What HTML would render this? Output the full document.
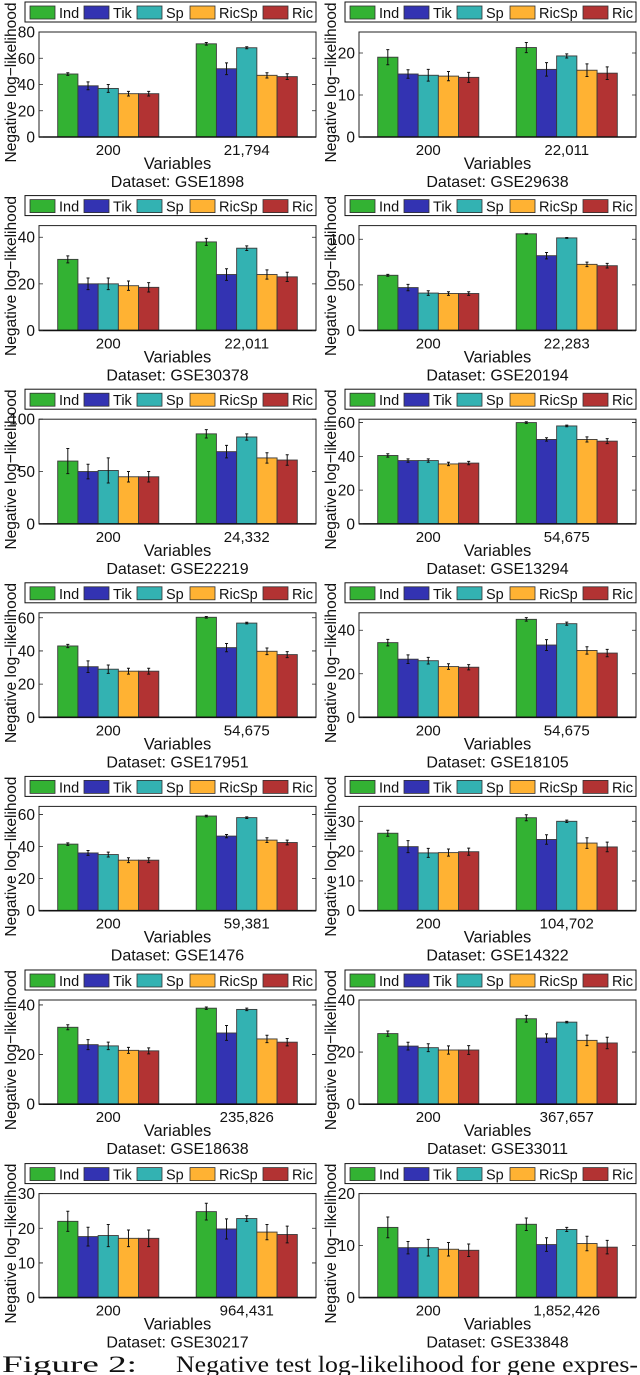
<!DOCTYPE html>
<html><head><meta charset="utf-8">
<style>
html,body{margin:0;padding:0;background:#fff;}
svg{display:block;}
text{font-family:"Liberation Sans",sans-serif;fill:#111;}
</style></head>
<body>
<svg id="fig" width="640" height="1375" viewBox="0 0 640 1375" xmlns="http://www.w3.org/2000/svg">
<g>
<text x="2" y="1372" style="font-family:'Liberation Serif',serif" font-size="23" textLength="135" lengthAdjust="spacingAndGlyphs">Figure 2:</text>
<text x="176" y="1372" style="font-family:'Liberation Serif',serif" font-size="23" textLength="462" lengthAdjust="spacingAndGlyphs">Negative test log-likelihood for gene expres-</text>
</g>
</svg>
<script>
const datasets = ["GSE1898","GSE29638","GSE30378","GSE20194","GSE22219","GSE13294","GSE17951","GSE18105","GSE1476","GSE14322","GSE18638","GSE33011","GSE30217","GSE33848"];
const varLabels = [["200","21,794"],["200","22,011"],["200","22,011"],["200","22,283"],["200","24,332"],["200","54,675"],["200","54,675"],["200","54,675"],["200","59,381"],["200","104,702"],["200","235,826"],["200","367,657"],["200","964,431"],["200","1,852,426"]];
const methods = ["Ind","Tik","Sp","RicSp","Ric"];
const yMax = [80,25,45,115,100,62,63,48,65,35,42,40,30,20];
const yTicks = [[0,20,40,60,80],[0,10,20],[0,20,40],[0,50,100],[0,50,100],[0,20,40,60],[0,20,40,60],[0,20,40],[0,20,40,60],[0,10,20,30],[0,20,40],[0,20,40],[0,10,20,30],[0,10,20]];
const values = [
 [[48,39,37,33,33],[71,52,68,47,46]],
 [[19,15,14.7,14.5,14.2],[21.3,16.1,19.3,15.9,15.2]],
 [[30.5,20,20,19.2,18.5],[38,24,35.3,24,23]],
 [[60.5,47,41,40.5,40.5],[106,82,101.5,72.5,71]],
 [[60,50,51,45,45],[86,69,83,63,61]],
 [[40.5,37.5,37.5,35.5,36],[60,50,58,50,49]],
 [[43,30.5,29,27.8,27.8],[60.3,42,56.8,39.8,37.8]],
 [[34.3,26.7,26,23.3,23],[45,33.2,43,30.7,29.5]],
 [[41.5,36,35,31.5,31.5],[59,46.5,58,44,42.5]],
 [[26,21.5,19.4,19.5,19.8],[31.2,23.9,30,22.7,21.4]],
 [[31,24,23.5,21.7,21.5],[38.7,28.7,38.2,26.3,25]],
 [[27.1,22.3,21.7,20.8,20.8],[32.8,25.4,31.5,24.5,23.5]],
 [[22,17.6,17.9,17.1,17.1],[24.8,19.8,22.8,18.9,18.2]],
 [[13.5,9.6,9.6,9.3,9.1],[14.1,10.2,13.1,10.4,9.7]]
];
const errors = [
 [[1,3,3,1.8,1.8],[1,4.5,0.8,2,2.2]],
 [[1.8,1,1.4,1.1,1.2],[1.2,1.6,0.5,1.5,1.5]],
 [[1.5,2.5,2.5,2,2],[1.5,2.5,1,2,2]],
 [[1,3.5,2.5,2,2],[0.5,3.5,0.5,2.5,2.5]],
 [[12,7,12,5,5],[4,6,3,5,5]],
 [[1,1,1,1,1],[0.5,1,0.5,1.5,1.5]],
 [[1,3.5,2.5,1.8,1.8],[0.5,2.5,0.5,2,1.8]],
 [[1.5,2,1.5,1.3,1.2],[0.8,2.5,0.7,1.7,1.7]],
 [[0.8,1.5,1.5,1.5,1.5],[0.5,1,0.5,1.5,1.5]],
 [[1,2,1.5,1.2,1.2],[1,1.6,0.4,1.8,1.6]],
 [[1,2,1.5,1.2,1.2],[0.5,3,0.5,1.5,1.5]],
 [[1,1.5,1.5,1.6,1.7],[1.3,1.6,0.3,2,2.2]],
 [[2.9,2.7,3.2,2.4,2.4],[2.4,2.9,0.8,2.2,2.4]],
 [[2,1.2,1.6,1.3,1.2],[1.2,1.3,0.4,1.4,1.3]]
];
const colors = ["#33b233","#3333b2","#33b2b2","#ffb233","#b23333"];

const NS = "http://www.w3.org/2000/svg";
const svg = document.getElementById('fig');
function mk(tag, attrs, parent, txt){
  const e = document.createElementNS(NS, tag);
  for (const k in attrs) e.setAttribute(k, attrs[k]);
  if (txt !== undefined) e.textContent = txt;
  (parent||svg).appendChild(e);
  return e;
}
const legX = [0, 54, 107, 160, 233];

for (let p = 0; p < datasets.length; p++) {
  const col = p % 2, row = Math.floor(p / 2);
  const oy = row * 193.6;
  const axL = col ? 359 : 39, axR = col ? 636 : 316;
  const axT = 32 + oy, axB = 137 + oy - (row/6)*1;
  const legL = col ? 345 : 25, legT = 2 + oy;
  const g = mk('g', {});
  
  

  const lg = mk('g', {}, g);
  
  
  mk('rect', {x: legL, y: legT, width: axR - legL, height: 20, fill: '#fff', stroke: '#111', 'stroke-width': 1}, lg);
  for (let m = 0; m < methods.length; m++) {
    const sx = legL + 5 + legX[m];
    const le = mk('g', {}, lg);
    
    
    mk('rect', {x: sx, y: legT + 4, width: 25, height: 13, fill: colors[m], stroke: '#333', 'stroke-width': 0.8}, le);
    mk('text', {x: sx + 29, y: legT + 16, 'font-size': 14.5}, le, methods[m]);
  }

  const h = axB - axT, w = axR - axL;
  const ys = v => axB - v / yMax[p] * h;
  const xs = u => axL + u / 2 * w;
  const ax = mk('g', {}, g);
  
  
  mk('rect', {x: axL, y: axT, width: w, height: h, fill: '#fff', stroke: '#222', 'stroke-width': 1}, ax);

  const bw = 0.146;
  for (let gi = 0; gi < 2; gi++) {
    const c = gi + 0.5;
    for (let m = 0; m < 5; m++) {
      const v = values[p][gi][m], e = errors[p][gi][m];
      const u0 = c - 2.5 * bw + m * bw;
      const x0 = xs(u0), x1 = xs(u0 + bw);
      const bar = mk('rect', {x: x0, y: ys(v), width: x1 - x0, height: axB - ys(v), fill: colors[m], stroke: '#3a3a3a', 'stroke-width': 0.9}, ax);
      
      
      const xc = (x0 + x1) / 2;
      const eb = mk('path', {d: `M${xc},${ys(v - e)}V${ys(v + e)}M${xc - 1.5},${ys(v - e)}h3M${xc - 1.5},${ys(v + e)}h3`, stroke: '#111', 'stroke-width': 1, fill: 'none'}, ax);
      
      
    }
    const xl = mk('text', {x: xs(c), y: axB + 18, 'font-size': 15, 'text-anchor': 'middle'}, ax, varLabels[p][gi]);
    
    
  }
  mk('line', {x1: axL, x2: axR, y1: axB, y2: axB, stroke: '#111', 'stroke-width': 1.6}, ax);
  for (const t of yTicks[p]) {
    const y = ys(t);
    mk('path', {d: `M${axL},${y}h4M${axR},${y}h-4`, stroke: '#222', 'stroke-width': 0.8}, ax);
    const tl = mk('text', {x: axL - 4, y: y + 5.5, 'font-size': 15.5, 'text-anchor': 'end'}, ax, String(t));
    
    
  }
  const yt = mk('text', {x: 0, y: 0, 'font-size': 16, 'text-anchor': 'middle', textLength: 160, lengthAdjust: 'spacingAndGlyphs', transform: `translate(${(col ? 321 : 1) + 15},${(axT + axB) / 2 - 2}) rotate(-90)`}, ax, 'Negative log\u2212likelihood');
  
  
  const xt = mk('text', {x: (axL + axR) / 2, y: axB + 32, 'font-size': 16.5, 'text-anchor': 'middle'}, ax, 'Variables');
  
  
  const dt = mk('text', {x: (axL + axR) / 2, y: axB + 50, 'font-size': 16, 'text-anchor': 'middle'}, ax, 'Dataset: ' + datasets[p]);
  
  
}
</script>
</body></html>
